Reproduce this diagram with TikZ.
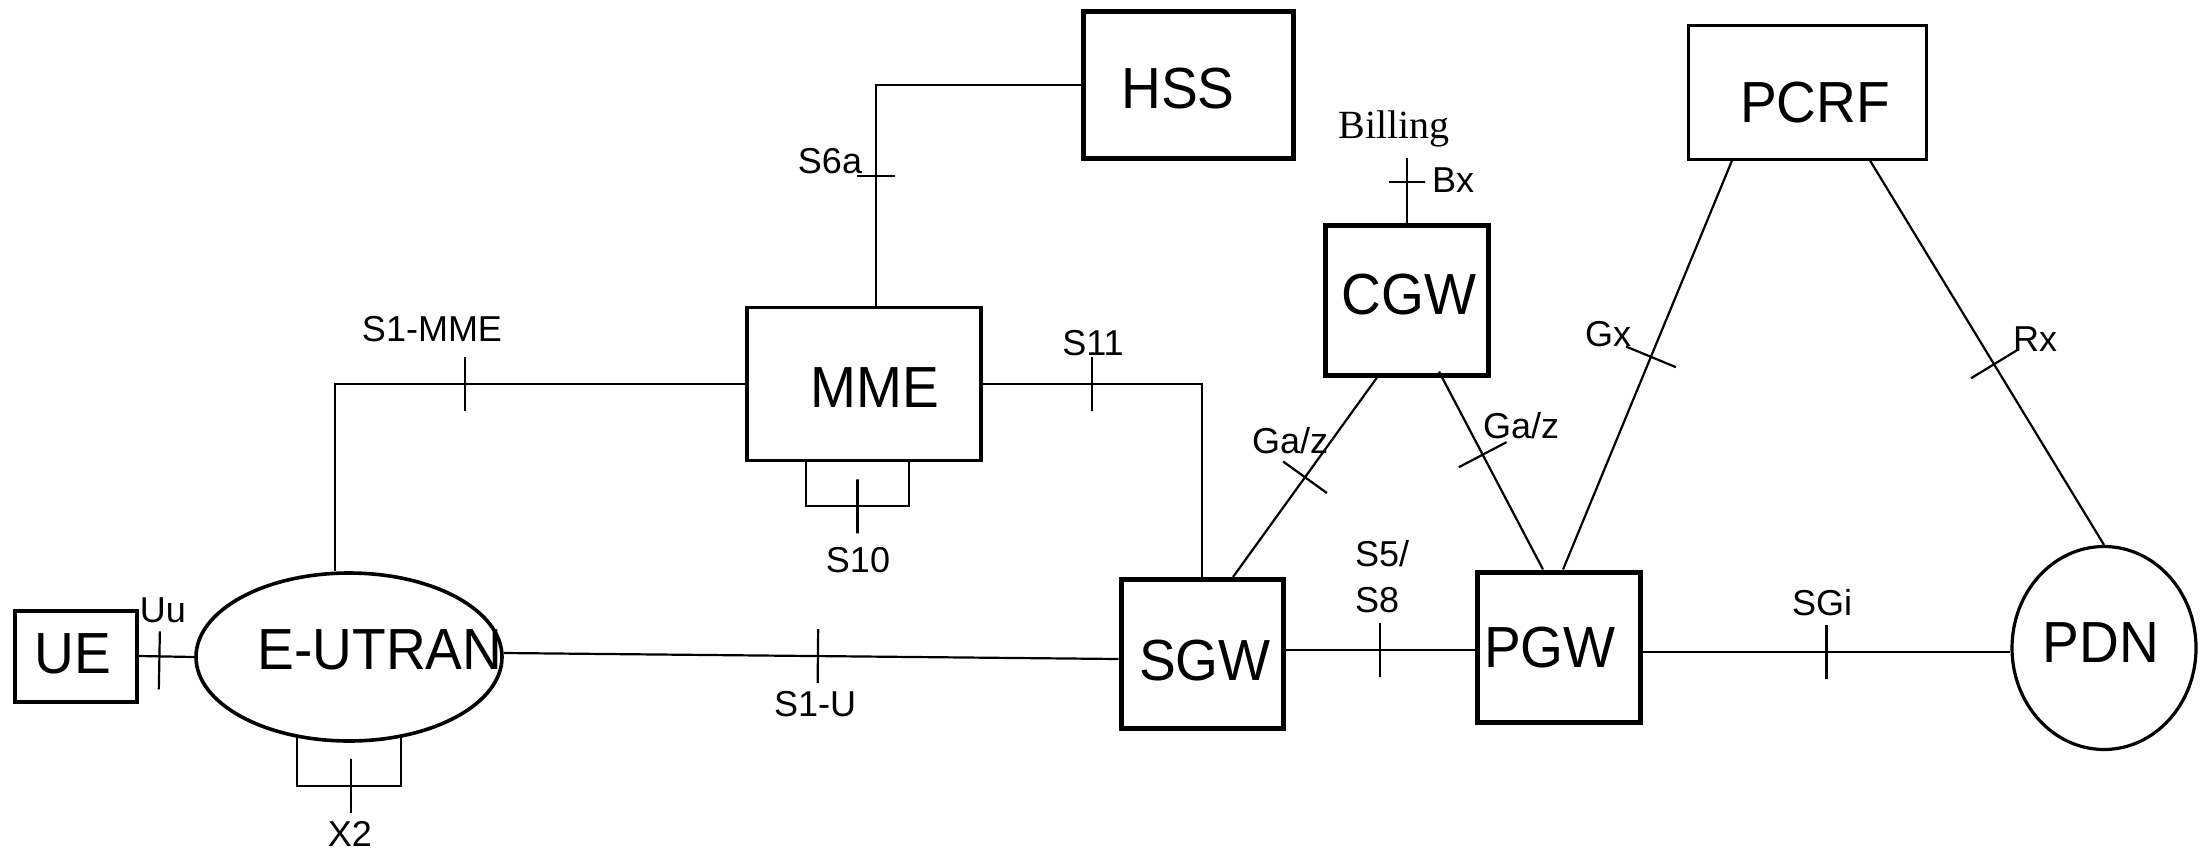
\documentclass[tikz,border=0pt]{standalone}
\usepackage{fontspec}
\setmainfont{Liberation Sans}
\newfontfamily\billfont{Liberation Serif}
\usetikzlibrary{shapes.geometric,calc}
\newcommand{\narrowtxt}[1]{\scalebox{0.95}[1]{#1}}
\begin{document}
\begin{tikzpicture}[x=1pt,y=-1pt,
  conn/.style={line width=2.2pt},
  boxnode/.style={draw, rectangle, inner sep=0pt},
  bigtext/.style={font=\fontsize{58}{62}\selectfont, inner sep=0pt},
  lbl/.style={font=\fontsize{36}{46}\selectfont, inner sep=0pt},
  ifmark/.style={draw, line width=2.2pt, sloped, rectangle, inner sep=0pt, minimum width=0pt, minimum height=#1},
  ifmark/.default=54pt]
\useasboundingbox (0,0) rectangle (2208,852);
\fill[white] (0,0) rectangle (2208,852);

% network elements
\node[boxnode, line width=4pt, minimum width=122pt, minimum height=91pt] (ue) at (76,656) {};
\node[bigtext] (ue-t) at (73,654) {\narrowtxt{UE}};
\node[draw, ellipse, line width=3.6pt, inner sep=0pt, minimum width=306pt, minimum height=168pt] (eutran) at (349,657) {};
\node[bigtext] (eutran-t) at (380,650) {\narrowtxt{E-UTRAN}};
\node[boxnode, line width=3.5pt, minimum width=234pt, minimum height=153pt] (mme) at (864,384) {};
\node[bigtext] (mme-t) at (875,388) {\narrowtxt{MME}};
\node[boxnode, line width=5pt, minimum width=210pt, minimum height=147pt] (hss) at (1188,85) {};
\node[bigtext] (hss-t) at (1178,89) {\narrowtxt{HSS}};
\node[boxnode, line width=5pt, minimum width=163pt, minimum height=150pt] (cgw) at (1407,300) {};
\node[bigtext] (cgw-t) at (1409,295) {\narrowtxt{CGW}};
\node[boxnode, line width=5pt, minimum width=162pt, minimum height=149pt] (sgw) at (1202,654) {};
\node[bigtext] (sgw-t) at (1205,661) {\narrowtxt{SGW}};
\node[boxnode, line width=5pt, minimum width=163pt, minimum height=150pt] (pgw) at (1559,647) {};
\node[bigtext] (pgw-t) at (1550,648) {\narrowtxt{PGW}};
\node[boxnode, line width=3pt, minimum width=238pt, minimum height=134pt] (pcrf) at (1807,92) {};
\node[bigtext] (pcrf-t) at (1815,103) {\narrowtxt{PCRF}};
\node[draw, ellipse, line width=3.2pt, inner sep=0pt, minimum width=184pt, minimum height=203pt] (pdn) at (2104,648) {};
\node[bigtext] (pdn-t) at (2101,643) {\narrowtxt{PDN}};
\node[font=\billfont\fontsize{40}{44}\selectfont, inner sep=0pt, anchor=base] (billing) at (1394,138) {Billing};
\coordinate (bxend) at (1407,158);

% interfaces
\draw[conn] (ue.east) -- node[ifmark=58pt, pos=0.37, yshift=-4pt] (t-uu) {} (eutran.west);
\draw[conn] (mme.west) -| node[ifmark, pos=0.342] (t-s1mme) {} ([xshift=-14pt]eutran.north);
\draw[conn] ([xshift=12pt]mme.north) |- node[ifmark=38pt, pos=0.293] (t-s6a) {} (hss.west);
\draw[conn] (mme.east) -| node[ifmark, pos=0.25] (t-s11) {} (sgw.north);
\draw[conn] ([xshift=-58pt]mme.south) -- ++(0,44) -| node[ifmark, pos=0.25] (t-s10) {} ([xshift=45pt]mme.south);
\draw[conn] ([shift={(-52,-8)}]eutran.south) -- ++(0,51) -| node[ifmark, pos=0.26] (t-x2) {} ([shift={(52,-8)}]eutran.south);
\draw[conn] ([yshift=4pt]eutran.east) -- node[ifmark, pos=0.511] (t-s1u) {} ([yshift=-5pt]sgw.west);
\draw[conn] ([xshift=-30pt]cgw.south) -- node[ifmark, pos=0.5] (t-gaz1) {} ([xshift=31pt]sgw.north);
\draw[conn] ([shift={(32,-6)}]cgw.south) -- node[ifmark, pos=0.42] (t-gaz2) {} ([xshift=-16pt]pgw.north);
\draw[conn] ([yshift=4pt]sgw.east) -- node[ifmark, pos=0.5] (t-s5) {} ([yshift=-3pt]pgw.west);
\draw[conn] ([yshift=-5pt]pgw.east) -- node[ifmark, pos=0.5, line width=3pt] (t-sgi) {} ([yshift=-4pt]pdn.west);
\draw[conn] ([xshift=-75pt]pcrf.south) -- node[ifmark, pos=0.48] (t-gx) {} ([xshift=4pt]pgw.north);
\draw[conn] ([xshift=63pt]pcrf.south) -- node[ifmark, pos=0.53] (t-rx) {} (pdn.north);
\draw[conn] (cgw.north) -- node[ifmark=36pt, pos=0.63] (t-bx) {} (bxend);

% labels
\node[lbl] (l-uu) at (163,610) {Uu};
\node[lbl] (l-s1mme) at (432,329) {S1-MME};
\node[lbl] (l-s6a) at (830,161) {S6a};
\node[lbl] (l-s10) at (858,560) {S10};
\node[lbl] (l-x2) at (350,834) {X2};
\node[lbl] (l-s11) at (1093,343) {S11};
\node[lbl] (l-bx) at (1453,180) {Bx};
\node[lbl] (l-gaz1) at (1290,441) {Ga/z};
\node[lbl] (l-gaz2) at (1521,426) {Ga/z};
\node[lbl, align=left, anchor=west] (l-s5s8) at (1355,577) {S5/\\S8};
\node[lbl] (l-s1u) at (815,704) {S1-U};
\node[lbl] (l-sgi) at (1822,603) {SGi};
\node[lbl] (l-gx) at (1608,334) {Gx};
\node[lbl] (l-rx) at (2035,339) {Rx};
\end{tikzpicture}
\end{document}
